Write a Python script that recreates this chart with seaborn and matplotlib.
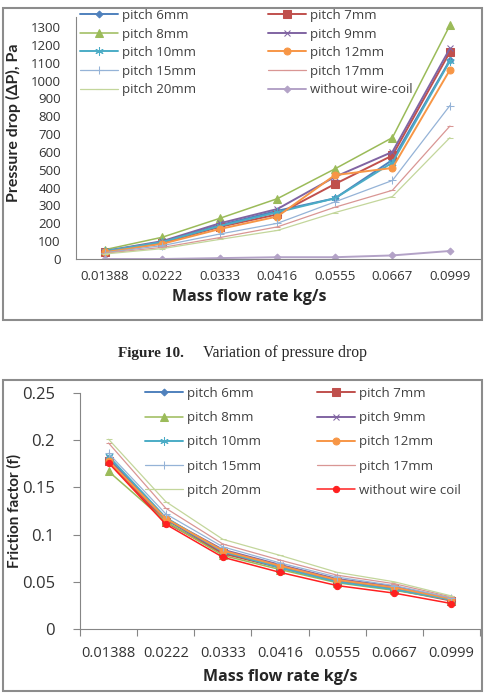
import matplotlib
matplotlib.use("Agg")
from matplotlib import pyplot as plt
from matplotlib.patches import Rectangle
import seaborn as sns

sns.set_style("white")
plt.rcParams['font.family'] = ['Open Sans', 'DejaVu Sans']

# data
flow = ['0.01388', '0.0222', '0.0333', '0.0416', '0.0555', '0.0667', '0.0999']

dp_p6 = [42, 95, 190, 270, 340, 555, 1115]
dp_p7 = [40, 90, 180, 250, 420, 580, 1160]
dp_p8 = [52, 122, 228, 338, 505, 680, 1310]
dp_p9 = [45, 100, 200, 280, 460, 600, 1180]
dp_p10 = [44, 95, 185, 262, 340, 540, 1110]
dp_p12 = [38, 85, 168, 238, 470, 510, 1060]
dp_p15 = [35, 75, 140, 200, 320, 440, 860]
dp_p17 = [32, 65, 120, 180, 290, 385, 745]
dp_p20 = [28, 58, 110, 160, 260, 350, 680]
dp_plain = [0, 0, 5, 10, 10, 20, 45]

ff_p6 = [0.180, 0.116, 0.081, 0.066, 0.051, 0.043, 0.031]
ff_p7 = [0.178, 0.113, 0.080, 0.065, 0.050, 0.042, 0.030]
ff_p8 = [0.167, 0.114, 0.078, 0.063, 0.049, 0.041, 0.031]
ff_p9 = [0.181, 0.117, 0.084, 0.068, 0.053, 0.045, 0.032]
ff_p10 = [0.183, 0.118, 0.082, 0.065, 0.050, 0.042, 0.031]
ff_p12 = [0.178, 0.117, 0.083, 0.067, 0.052, 0.044, 0.032]
ff_p15 = [0.186, 0.122, 0.087, 0.070, 0.055, 0.046, 0.033]
ff_p17 = [0.197, 0.128, 0.090, 0.073, 0.057, 0.048, 0.034]
ff_p20 = [0.201, 0.135, 0.095, 0.078, 0.060, 0.050, 0.035]
ff_plain = [0.176, 0.111, 0.076, 0.060, 0.046, 0.038, 0.027]

# (label, color, marker, markersize, linewidth)
styles = [
    ('pitch 6mm', '#4F81BD', 'D', 3.5, 1.4),
    ('pitch 7mm', '#C0504D', 's', 5.5, 1.4),
    ('pitch 8mm', '#9BBB59', '^', 5.5, 1.1),
    ('pitch 9mm', '#8064A2', 'x', 5, 1.4),
    ('pitch 10mm', '#4BACC6', (6, 2, 0), 6, 1.4),
    ('pitch 12mm', '#F79646', 'o', 5, 1.4),
    ('pitch 15mm', '#95B3D7', '+', 6, 0.9),
    ('pitch 17mm', '#D99694', '_', 5, 0.9),
    ('pitch 20mm', '#C3D69B', '_', 5, 0.9),
]

# legend order so that ncol=2 reads row by row
leg_order = [0, 2, 4, 6, 8, 1, 3, 5, 7, 9]
lab_font = ['Lato', 'DejaVu Sans']

xpos = list(range(len(flow)))
W, H = 489, 695
fig = plt.figure(figsize=(W / 100, H / 100), dpi=100)

# ---- top chart : pressure drop
ax1 = fig.add_axes([76 / W, 1 - 259 / H, 405 / W, 242 / H])
dp_all = [dp_p6, dp_p7, dp_p8, dp_p9, dp_p10, dp_p12, dp_p15, dp_p17, dp_p20]
for (lab, c, m, ms, lw), vals in zip(styles, dp_all):
    sns.lineplot(x=xpos, y=vals, ax=ax1, color=c, marker=m, markersize=ms,
                 markeredgecolor=c, linewidth=lw, label=lab)
sns.lineplot(x=xpos, y=dp_plain, ax=ax1, color='#B3A2C7', marker='D', markersize=3.5,
             markeredgecolor='#B3A2C7', linewidth=1.4, label='without wire-coil')

ax1.set_xlim(-0.5, 6.54)
ax1.set_ylim(0, 1356)
ax1.set_yticks(range(0, 1301, 100))
ax1.set_xticks(xpos)
ax1.set_xticklabels(flow)
ax1.tick_params(axis='both', length=0, labelsize=9.5, colors='#333333', pad=8)
ax1.tick_params(axis='y', pad=11)
for s in ['top', 'right']:
    ax1.spines[s].set_visible(False)
for s in ['left', 'bottom']:
    ax1.spines[s].set_color('#868686')
ax1.set_ylabel('Pressure drop (ΔP), Pa', fontsize=11.5, fontweight='bold', family=lab_font)
ax1.yaxis.set_label_coords(-0.135, 0.565)
ax1.set_xlabel('Mass flow rate kg/s', fontsize=11.5, fontweight='bold')
ax1.xaxis.set_label_coords(0.427, -0.125)
h, l = ax1.get_legend_handles_labels()
ax1.legend([h[i] for i in leg_order], [l[i] for i in leg_order],
           loc='upper left', bbox_to_anchor=(80 / W, 1 - 9 / H), bbox_transform=fig.transFigure,
           ncol=2, frameon=False, fontsize=9.5, handlelength=2.9, handletextpad=0.3,
           columnspacing=5.4, labelspacing=0.42, borderpad=0, borderaxespad=0,
           labelcolor='#404040')

# ---- bottom chart : friction factor
ax2 = fig.add_axes([80 / W, 1 - 629 / H, 400 / W, 236 / H])
ff_all = [ff_p6, ff_p7, ff_p8, ff_p9, ff_p10, ff_p12, ff_p15, ff_p17, ff_p20]
for (lab, c, m, ms, lw), vals in zip(styles, ff_all):
    sns.lineplot(x=xpos, y=vals, ax=ax2, color=c, marker=m, markersize=ms,
                 markeredgecolor=c, linewidth=lw, label=lab)
sns.lineplot(x=xpos, y=ff_plain, ax=ax2, color='#FF2020', marker='o', markersize=4.5,
             markeredgecolor='#FF2020', linewidth=1.1, label='without wire coil')

ax2.set_xlim(-0.5, 6.5)
ax2.set_ylim(0, 0.25)
ax2.set_yticks([0, 0.05, 0.1, 0.15, 0.2, 0.25])
ax2.set_yticklabels(['0', '0.05', '0.1', '0.15', '0.2', '0.25'])
ax2.set_xticks([i + 0.5 for i in range(-1, 7)], minor=False)
ax2.set_xticklabels([])
ax2.set_xticks(xpos, minor=True)
ax2.set_xticklabels(flow, minor=True)
ax2.tick_params(axis='x', which='major', length=5, color='#868686', direction='out')
ax2.tick_params(axis='x', which='minor', length=0, labelsize=10.5, colors='#333333', pad=12)
ax2.tick_params(axis='y', length=5, color='#868686', direction='out', labelsize=12,
                labelcolor='#333333', pad=13)
ax2.xaxis.set_tick_params(bottom=True)
ax2.yaxis.set_tick_params(left=True)
for s in ['top', 'right']:
    ax2.spines[s].set_visible(False)
for s in ['left', 'bottom']:
    ax2.spines[s].set_color('#868686')
ax2.set_ylabel('Friction factor (f)', fontsize=11, fontweight='bold', family=lab_font)
ax2.yaxis.set_label_coords(-0.145, 0.5)
ax2.set_xlabel('Mass flow rate kg/s', fontsize=11.5, fontweight='bold')
ax2.xaxis.set_label_coords(0.5, -0.168)
h, l = ax2.get_legend_handles_labels()
ax2.legend([h[i] for i in leg_order], [l[i] for i in leg_order],
           loc='upper left', bbox_to_anchor=(145 / W, 1 - 387 / H), bbox_transform=fig.transFigure,
           ncol=2, frameon=False, fontsize=9.5, handlelength=2.9, handletextpad=0.3,
           columnspacing=4.2, labelspacing=0.85, borderpad=0, borderaxespad=0,
           labelcolor='#404040')

# chart frames
for y0, y1 in [(8, 320), (380, 691)]:
    fig.add_artist(Rectangle((3 / W, 1 - y1 / H), 479 / W, (y1 - y0) / H,
                             transform=fig.transFigure, fill=False,
                             edgecolor='#8C8C8C', linewidth=1.5))

# caption
fig.text(118 / W, 1 - 353 / H, 'Figure 10.', fontsize=11, fontweight='bold',
         family='Liberation Serif', va='center', ha='left')
fig.text(203 / W, 1 - 353 / H, 'Variation of pressure drop', fontsize=11.3,
         family='Liberation Serif', va='center', ha='left')

fig.savefig('out.png', dpi=100)
